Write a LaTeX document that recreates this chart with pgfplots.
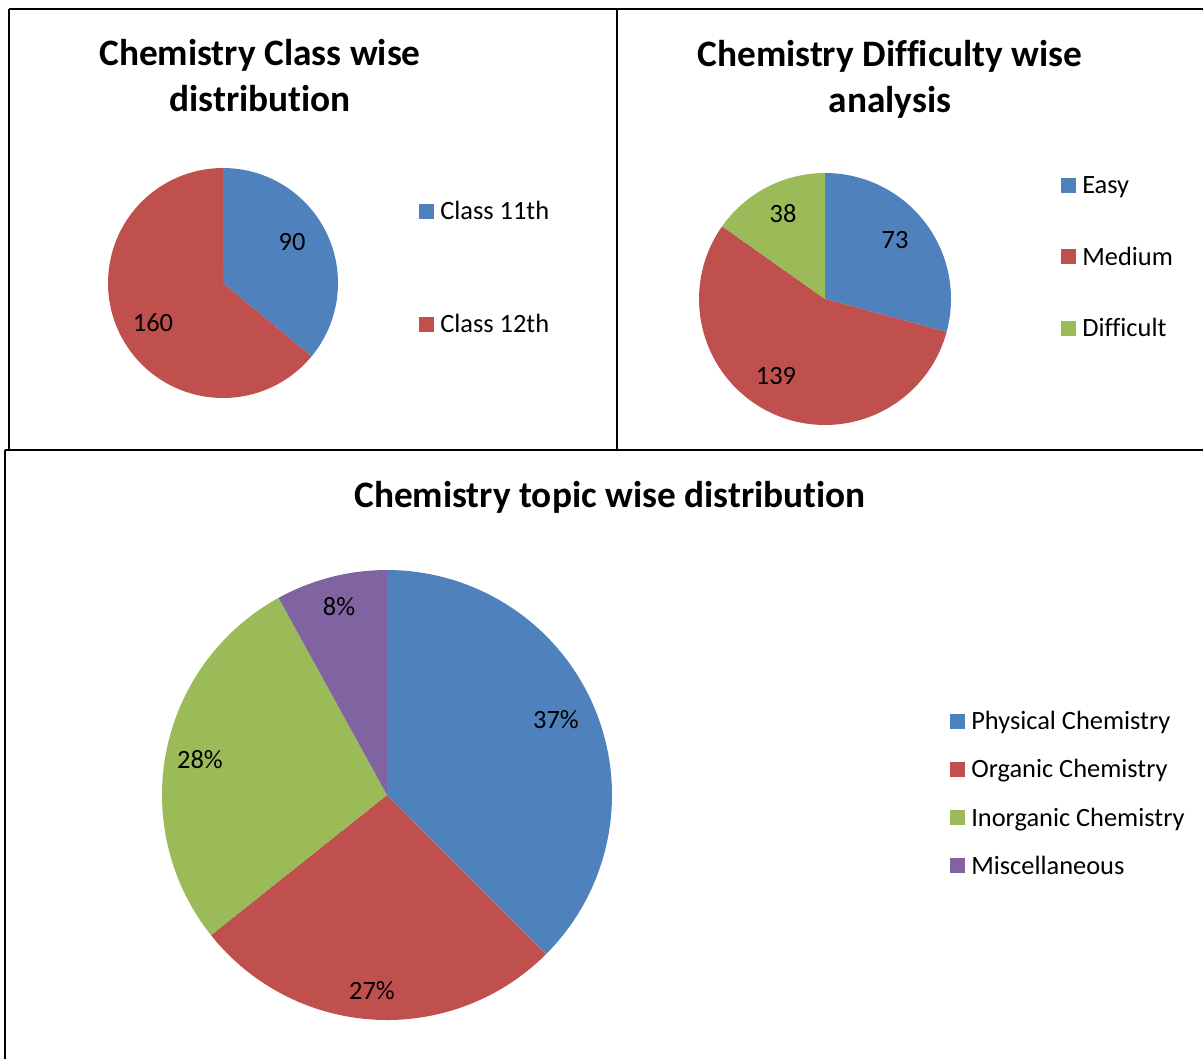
\documentclass[border=0pt]{standalone}
\usepackage{pgfplots}
\pgfplotsset{compat=1.18}
\usepackage{fontspec}
\setmainfont{Carlito}[Ligatures=NoCommon]
\definecolor{cblue}{HTML}{4F81BD}
\definecolor{cred}{HTML}{C0504D}
\definecolor{cgreen}{HTML}{9BBB59}
\definecolor{cpurple}{HTML}{8064A2}
\newcommand{\lbl}{\fontsize{19.8}{23}\selectfont}
\newcommand{\ttl}{\fontsize{28}{34.5}\selectfont\bfseries}
\pgfplotsset{
  pxaxis/.style={
    at={(0,0)}, anchor=north west,
    x=0.75pt, y=0.75pt, y dir=reverse,
    xmin=0, xmax=1203, ymin=0, ymax=1059,
    hide axis, clip=false,
    legend cell align=left,
    legend image code/.code={\fill[##1] (0pt,-5.6pt) rectangle (11.25pt,5.6pt);},
    legend style={draw=none, fill=none, inner sep=0pt, font=\lbl,
      nodes={inner sep=0pt, text height=12.75pt, text depth=0pt},
      /tikz/every odd column/.append style={column sep=4.5pt}},
  },
}
% slice: cx, cy, r, start angle, end angle, colour
\newcommand{\slice}[6]{%
  \addplot[draw=none, fill=#6, domain=#4:#5, samples=90, variable=\t]
    ({#1+#3*cos(\t)},{#2-#3*sin(\t)}) -- (#1,#2) -- cycle;%
}
% values
\def\vA{90}\def\vB{160}
\def\wA{73}\def\wB{139}\def\wC{38}
\def\uA{37.5}\def\uB{26.8}\def\uC{27.7}\def\uD{8.0}
\pgfmathsetmacro{\pA}{90-360*(\vA/(\vA+\vB))}
\pgfmathsetmacro{\pB}{\pA-360*(\vB/(\vA+\vB))}
\pgfmathsetmacro{\qA}{90-360*(\wA/(\wA+\wB+\wC))}
\pgfmathsetmacro{\qB}{\qA-360*(\wB/(\wA+\wB+\wC))}
\pgfmathsetmacro{\qC}{\qB-360*(\wC/(\wA+\wB+\wC))}
\pgfmathsetmacro{\rA}{90-360*(\uA/(\uA+\uB+\uC+\uD))}
\pgfmathsetmacro{\rB}{\rA-360*(\uB/(\uA+\uB+\uC+\uD))}
\pgfmathsetmacro{\rC}{\rB-360*(\uC/(\uA+\uB+\uC+\uD))}
\pgfmathsetmacro{\rD}{\rC-360*(\uD/(\uA+\uB+\uC+\uD))}
\begin{document}%
\begin{tikzpicture}
\useasboundingbox (0,0) rectangle (902.25pt,-794.25pt);
% ---------- Chart 1 ----------
\begin{axis}[pxaxis,
  legend style={at={(axis cs:419,202.5)}, anchor=north west, row sep=72pt}]
  \slice{223}{283}{115}{90}{\pA}{cblue}
  \slice{223}{283}{115}{\pA}{\pB}{cred}
  \legend{Class 11th, Class 12th}
  \draw[line width=1.5pt] (axis cs:9,9) -- (axis cs:1203,9);
  \draw[line width=1.5pt] (axis cs:9,9) -- (axis cs:9,450);
  \draw[line width=1.5pt] (axis cs:617,9) -- (axis cs:617,450);
  \draw[line width=1.5pt] (axis cs:5,450) -- (axis cs:1203,450);
  \draw[line width=1.5pt] (axis cs:5,450) -- (axis cs:5,1059);
  \node[font=\ttl, align=center] at (axis cs:260,76) {Chemistry Class wise\\distribution};
  \node[font=\lbl] at (axis cs:292,242) {90};
  \node[font=\lbl] at (axis cs:153,323) {160};
\end{axis}
% ---------- Chart 2 ----------
\begin{axis}[pxaxis,
  legend style={at={(axis cs:1061,176.5)}, anchor=north west, row sep=40.8pt}]
  \slice{825}{299}{126}{90}{\qA}{cblue}
  \slice{825}{299}{126}{\qA}{\qB}{cred}
  \slice{825}{299}{126}{\qB}{\qC}{cgreen}
  \legend{Easy, Medium, Difficult}
  \node[font=\ttl, align=center] at (axis cs:890,79) {Chemistry Difficulty wise\\analysis};
  \node[font=\lbl] at (axis cs:895,240) {73};
  \node[font=\lbl] at (axis cs:776,376) {139};
  \node[font=\lbl] at (axis cs:783,214) {38};
\end{axis}
% ---------- Chart 3 ----------
\begin{axis}[pxaxis,
  legend style={at={(axis cs:950,712.5)}, anchor=north west, row sep=23.4pt}]
  \slice{387}{795}{225}{90}{\rA}{cblue}
  \slice{387}{795}{225}{\rA}{\rB}{cred}
  \slice{387}{795}{225}{\rB}{\rC}{cgreen}
  \slice{387}{795}{225}{\rC}{\rD}{cpurple}
  \legend{Physical Chemistry, Organic Chemistry, Inorganic Chemistry, Miscellaneous}
  \node[font=\ttl] at (axis cs:610,497) {Chemistry topic wise distribution};
  \node[font=\lbl] at (axis cs:556,720) {37\%};
  \node[font=\lbl] at (axis cs:372,991) {27\%};
  \node[font=\lbl] at (axis cs:200,760) {28\%};
  \node[font=\lbl] at (axis cs:339,607) {8\%};
\end{axis}
\end{tikzpicture}%
\end{document}
